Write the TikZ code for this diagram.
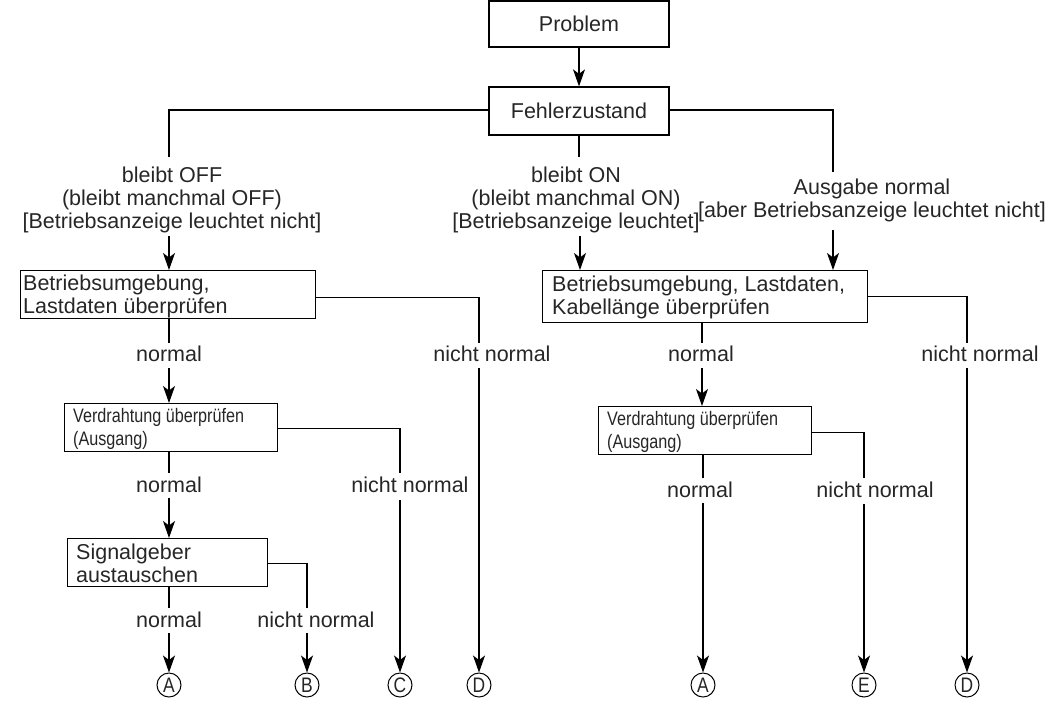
\documentclass[tikz,border=0pt]{standalone}
\usepackage{fontspec}
\setmainfont{Liberation Sans}
\newfontfamily\condf[FakeStretch=0.83]{Liberation Sans}
\usetikzlibrary{arrows.meta}
\tikzset{
  box/.style={draw=black, line width=1.3pt, rectangle, inner sep=0pt, anchor=north west},
  cbox/.style={draw=black, line width=1.3pt, rectangle, inner sep=0pt, text=black!85},
  btxt/.style={inner sep=0pt, anchor=base west, align=left, text=black!85},
  vtxt/.style={btxt, font=\condf\fontsize{19.5}{23}\selectfont},
  lbl/.style={inner sep=0pt, anchor=base, align=center, text=black!85},
  ln/.style={line width=1.2pt, draw=black},
  arr/.style={ln, -{Stealth[length=17pt,width=12pt,inset=4.5pt]}},
  endc/.style={draw=black, line width=1pt, circle, minimum size=24pt, inner sep=0pt, text=black!85, font=\condf\fontsize{21}{22}\selectfont}
}
\begin{document}
\begin{tikzpicture}[x=1pt,y=-1pt, font=\fontsize{21.5}{23}\selectfont]
\useasboundingbox (0,0) rectangle (1048,702);
% boxes
\node[cbox, minimum width=180pt, minimum height=46pt] (prob) at (579,24) {Problem};
\node[cbox, minimum width=180pt, minimum height=48pt] (fz) at (579,111) {Fehlerzustand};
\node[box, minimum width=295pt, minimum height=48pt] (b1L) at (20,270) {};
\node[btxt] (b1Lt) at (23,313) {Betriebsumgebung,\\Lastdaten überprüfen};
\node[box, minimum width=325pt, minimum height=52pt] (b1R) at (542,270) {};
\node[btxt] (b1Rt) at (552,314) {Betriebsumgebung, Lastdaten,\\Kabellänge überprüfen};
\node[box, minimum width=213pt, minimum height=48pt] (vL) at (64,403) {};
\node[vtxt] (vLt) at (73,445) {Verdrahtung überprüfen\\(Ausgang)};
\node[box, minimum width=213pt, minimum height=48pt] (vR) at (598,406) {};
\node[vtxt] (vRt) at (607,448) {Verdrahtung überprüfen\\(Ausgang)};
\node[box, minimum width=200pt, minimum height=48pt] (sig) at (67,538) {};
\node[btxt] (sigt) at (76,582) {Signalgeber\\austauschen};
% end markers
\node[endc] (A1) at (169,685) {A};
\node[endc] (B1) at (307,685) {B};
\node[endc] (C1) at (400,685) {C};
\node[endc] (D1) at (479,685) {D};
\node[endc] (A2) at (703,685) {A};
\node[endc] (E1) at (864,685) {E};
\node[endc] (D2) at (967,685) {D};
% labels (anchor base = last line)
\node[lbl] (lOFF) at (172,228) {bleibt OFF\\(bleibt manchmal OFF)\\{}[Betriebsanzeige leuchtet nicht]};
\node[lbl] (lON) at (576,228) {bleibt ON\\(bleibt manchmal ON)\\{}[Betriebsanzeige leuchtet]};
\node[lbl] (lAus) at (872,217) {Ausgabe normal\\{}[aber Betriebsanzeige leuchtet nicht]};
\node[lbl] (nD1) at (492,361) {nicht normal};
\node[lbl] (nL1) at (169,361) {normal};
\node[lbl] (nC1) at (410,492) {nicht normal};
\node[lbl] (nL2) at (169,492) {normal};
\node[lbl] (nB1) at (316,627) {nicht normal};
\node[lbl] (nA1) at (169,627) {normal};
\node[lbl] (nD2) at (980,361) {nicht normal};
\node[lbl] (nR1) at (701,361) {normal};
\node[lbl] (nE1) at (875,497) {nicht normal};
\node[lbl] (nA2) at (700,497) {normal};
% coordinates for line breaks around labels
\coordinate (cOFFt) at (169,157);
\coordinate (cOFFb) at (169,236);
\coordinate (cONt) at (579,157);
\coordinate (cONb) at (580,236);
\coordinate (cAust) at (833,172);
\coordinate (cAusb) at (833,230);
\coordinate (cD1t) at (479,343);
\coordinate (cD1b) at (479,368);
\coordinate (cN1t) at (169,343);
\coordinate (cN1b) at (169,368);
\coordinate (cCt) at (400,473);
\coordinate (cCb) at (400,500);
\coordinate (cN2t) at (169,473);
\coordinate (cN2b) at (169,498);
\coordinate (cBt) at (307,608);
\coordinate (cBb) at (307,633);
\coordinate (cAt) at (169,608);
\coordinate (cAb) at (169,633);
\coordinate (cD2t) at (967,343);
\coordinate (cD2b) at (967,368);
\coordinate (cR1t) at (702,343);
\coordinate (cR1b) at (702,368);
\coordinate (cEt) at (864,478);
\coordinate (cEb) at (864,504);
\coordinate (cA2t) at (703,478);
\coordinate (cA2b) at (703,503);
% connectors
\draw[arr] (prob.south) -- (fz.north);
\draw[ln] ([yshift=1pt]fz.west) -| (cOFFt);
\draw[ln] (fz.south) -- (cONt);
\draw[ln] ([yshift=1pt]fz.east) -| (cAust);
\draw[arr] (cOFFb) -- (cOFFb |- b1L.north);
\draw[arr] (cONb) -- (cONb |- b1R.north);
\draw[arr] (cAusb) -- (cAusb |- b1R.north);
% left column
\draw[ln] ([yshift=-3pt]b1L.east) -| (cD1t);
\draw[arr] (cD1b) -- (D1.north);
\draw[ln] (cN1t |- b1L.south) -- (cN1t);
\draw[arr] (cN1b) -- (cN1b |- vL.north);
\draw[ln] ([yshift=-1pt]vL.east) -| (cCt);
\draw[arr] (cCb) -- (C1.north);
\draw[ln] (cN2t |- vL.south) -- (cN2t);
\draw[arr] (cN2b) -- (cN2b |- sig.north);
\draw[ln] ([yshift=-1pt]sig.east) -| (cBt);
\draw[arr] (cBb) -- (B1.north);
\draw[ln] (cAt |- sig.south) -- (cAt);
\draw[arr] (cAb) -- (A1.north);
% right column
\draw[ln] (b1R.east) -| (cD2t);
\draw[arr] (cD2b) -- (D2.north);
\draw[ln] (cR1t |- b1R.south) -- (cR1t);
\draw[arr] (cR1b) -- (cR1b |- vR.north);
\draw[ln] ([yshift=-2pt]vR.east) -| (cEt);
\draw[arr] (cEb) -- (E1.north);
\draw[ln] (cA2t |- vR.south) -- (cA2t);
\draw[arr] (cA2b) -- (A2.north);
\end{tikzpicture}
\end{document}
